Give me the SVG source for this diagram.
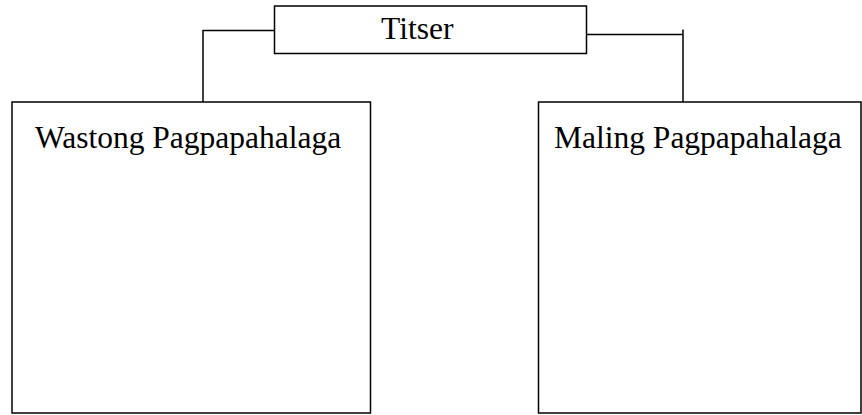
<svg xmlns="http://www.w3.org/2000/svg" width="862" height="415" viewBox="0 0 862 415">
<style>
.box{fill:#fff;stroke:#000;stroke-width:1.5}
.line{fill:none;stroke:#000;stroke-width:1.5}
text{font-family:"Liberation Serif","Times New Roman",serif;font-size:31.5px;fill:#000}
</style>
<rect width="862" height="415" fill="#fff"/>
<g id="connectors">
<polyline class="line" points="274.5,30.5 203,30.5 203,102"/>
<polyline class="line" points="586.5,34.5 683,34.5"/>
<line class="line" x1="683" y1="29.5" x2="683" y2="102"/>
</g>
<g id="titser">
<rect class="box" x="274.5" y="6" width="312" height="47.5"/>
<text x="381" y="39">Titser</text>
</g>
<g id="wastong">
<rect class="box" x="12" y="102" width="358.5" height="311"/>
<text x="35" y="148">Wastong Pagpapahalaga</text>
</g>
<g id="maling">
<rect class="box" x="538.5" y="102" width="322.5" height="311"/>
<text x="554" y="148">Maling Pagpapahalaga</text>
</g>
</svg>
